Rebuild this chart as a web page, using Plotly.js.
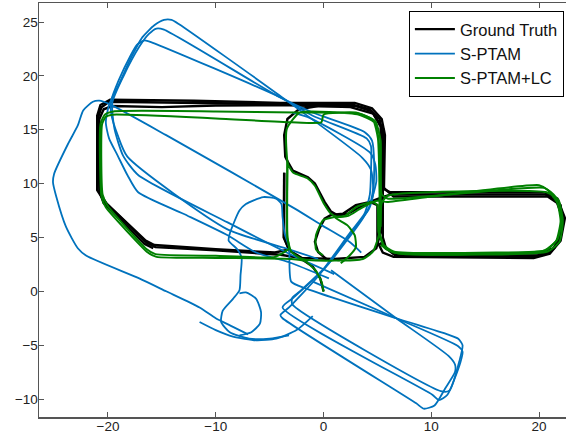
<!DOCTYPE html>
<html><head><meta charset="utf-8">
<script src="https://cdn.plot.ly/plotly-3.0.1.min.js"></script>
<style>html,body{margin:0;padding:0;background:#fff}</style>
</head><body>
<div id="chart" style="width:566px;height:442px"></div>
<script>
// ---------------- Ground truth (black) ----------------
const gtLap1 = [[0,0],[-0.3,1.2],[-1.0,2.3],[-2.2,3.1],[-4.0,3.4],[-10.0,3.8],[-15.6,4.1],[-16.4,4.5],[-20.1,8.1],[-20.8,9.2],[-20.9,16.2],[-20.6,17.1],[-19.9,17.6],[-12.0,17.5],[-4.0,17.4],[2.8,17.3],[4.3,16.9],[5.2,16.0],[5.5,14.5],[5.5,5.0],[5.8,4.0],[6.6,3.4],[10.0,3.3],[19.8,3.3],[21.1,3.7],[21.9,4.8],[22.2,6.8],[21.6,8.4],[20.6,9.0],[10.0,9.0],[6.3,9.0],[5.6,8.8],[5.05,8.6],[4.3,8.3],[3.35,7.8],[2.25,7.2],[1.3,7.05],[0.7,7.4],[0.1,8.3],[-0.8,10.0],[-1.45,10.6],[-2.85,11.2],[-3.3,12.0],[-3.55,12.5],[-3.65,14.5],[-3.35,16.0],[-2.3,16.9],[-0.5,17.2],[3.0,17.2],[4.5,16.7],[5.3,15.3],[5.4,10.0],[5.3,5.5],[4.9,4.0],[3.8,3.2],[1.0,3.0],[-2.0,3.1],[-3.2,3.8],[-3.65,5.0],[-3.65,11.0]];
const gtLap2 = [[-3.65,11.0],[-3.7,5.0],[-3.2,3.9],[-4.5,3.6],[-10.0,3.9],[-15.7,4.3],[-16.5,4.7],[-20.3,8.3],[-21.0,9.4],[-21.0,16.3],[-20.7,17.3],[-19.8,17.8],[-12.0,17.7],[-4.0,17.5],[2.9,17.5],[4.5,17.0],[5.4,16.0],[5.7,14.5],[5.6,9.5],[6.2,9.2],[10.0,9.2],[20.5,9.2],[21.7,8.6],[22.4,6.8],[22.0,4.7],[21.0,3.5],[19.5,3.1],[10.0,3.2],[6.5,3.2],[5.5,3.6],[5.0,4.6],[5.0,8.0],[4.3,8.3],[3.0,8.0],[1.8,7.2],[0.7,7.1],[0.1,6.75],[-0.4,5.8],[-0.8,4.6],[-0.5,3.65],[0.25,3.0],[1.5,2.9]];
const gtLap3 = [[-15.8,4.0],[-16.6,4.4],[-20.4,8.2],[-20.7,9.0],[-20.8,16.0],[-20.4,16.9],[-19.6,17.2],[-15.0,17.1],[-10.0,17.25],[-4.0,17.3],[2.5,17.1],[4.6,16.5],[5.6,15.0],[5.6,9.6],[6.5,8.8],[20.8,8.8],[22.0,8.0],[22.2,6.0],[21.4,4.0],[19.8,3.5],[6.5,3.5],[5.2,4.5]];

// ---------------- S-PTAM (blue) ----------------
const spFarLeft = [[-7.0,-4.0],[-8.4,-3.3],[-10.0,-2.5],[-11.5,-1.5],[-14.6,0.0],[-17.1,1.2],[-22.0,3.3],[-22.8,4.0],[-23.9,6.0],[-24.8,8.8],[-25.1,10.1],[-25.0,10.9],[-23.7,13.7],[-22.8,15.4],[-22.3,16.8],[-21.4,17.6],[-20.8,17.7],[-19.9,17.4],[-14.6,14.5],[-2.7,7.7],[-0.1,6.1],[2.4,4.6],[3.5,3.6]];
const spLapA = [[0.5,1.2],[-3.2,2.7],[-6.25,3.6],[-8.9,5.2],[-13.0,7.2],[-17.2,9.2],[-18.2,10.8],[-19.1,12.6],[-19.9,14.2],[-20.2,15.7],[-19.9,17.3],[-18.9,19.4],[-18.0,21.4],[-16.8,23.6],[-15.7,24.7],[-14.8,25.2],[-14.1,25.2],[-13.4,24.8],[-4.1,18.2],[3.6,12.4],[4.4,11.3],[4.6,9.6],[4.3,8.0],[3.6,6.7],[0.5,2.6],[-2.2,0.0],[-2.9,-0.6],[-2.9,-1.2],[11.0,-9.3],[11.7,-9.2],[12.6,-6.5],[12.9,-5.0],[12.5,-4.4],[11.5,-4.0],[6.75,-2.5],[-1.6,0.25],[-3.0,0.9],[-3.2,4.1],[-3.6,5.35],[-3.8,6.9],[-3.9,8.1],[-4.4,8.6],[-5.6,8.75],[-7.2,8.1],[-7.8,7.5],[-8.7,5.35],[-8.8,4.7],[-8.0,3.9],[-7.6,3.1],[-7.7,1.5],[-7.8,0.1],[-8.4,-0.7],[-9.35,-1.8],[-9.5,-2.85],[-8.7,-3.8],[-6.9,-4.4],[-5.0,-4.4],[-3.2,-4.1]];
const spLapB = [[1.0,1.6],[-3.0,3.4],[-8.9,6.4],[-17.2,10.8],[-18.6,12.6],[-19.4,15.1],[-19.6,17.5],[-18.6,19.9],[-17.1,22.7],[-16.2,23.9],[-15.5,24.4],[-14.8,24.3],[-4.2,18.1],[-1.0,16.6],[3.8,14.8],[4.5,14.0],[4.7,12.0],[4.6,9.0],[4.2,7.6],[3.0,6.0],[0.0,2.0],[-2.8,-0.6],[-3.8,-1.5],[10.1,-9.6],[10.7,-10.1],[11.5,-9.6],[12.7,-6.6],[12.9,-5.6],[12.5,-5.1],[6.75,-2.5],[-1.0,0.9]];
const spLapC = [[-0.5,3.0],[-3.2,3.9],[-9.0,5.8],[-18.2,12.5],[-19.1,14.5],[-19.7,16.5],[-19.7,17.7],[-19.0,19.6],[-17.9,21.9],[-17.3,22.9],[-16.6,23.3],[-15.9,23.1],[-4.0,18.0],[-1.0,16.3],[4.0,14.2],[4.4,13.5],[4.4,11.0],[4.3,9.0],[3.8,7.2],[2.5,5.5],[-0.5,1.4],[-3.2,-1.5],[-4.0,-2.2],[-3.8,-2.5],[8.6,-10.4],[9.3,-10.9],[10.3,-10.6],[11.3,-9.0],[12.2,-7.5],[12.2,-6.8],[11.6,-6.0],[6.75,-2.5],[0.7,1.95]];
const spInner = [[-2.9,16.6],[-1.5,16.2],[4.3,12.9],[4.8,11.8],[4.9,10.2],[4.5,8.6]];
const spTear = [[-7.8,-0.2],[-7.2,-0.1],[-6.25,-0.7],[-5.8,-1.9],[-5.9,-3.0],[-6.7,-3.8],[-7.8,-4.1]];
const spEnd = [[-11.5,-2.85],[-10.0,-3.6],[-8.4,-4.2],[-6.25,-4.55],[-4.4,-4.4],[-2.5,-3.6],[-1.0,-2.3]];

// ---------------- S-PTAM+LC (green) ----------------
const lcLap1 = [[0.0,-0.05],[-0.15,0.8],[-0.7,1.9],[-1.7,2.8],[-3.0,3.0],[-10.0,3.1],[-15.5,3.2],[-16.3,3.6],[-20.2,7.8],[-20.6,8.8],[-20.7,15.5],[-20.3,16.4],[-19.5,16.7],[-10.0,16.7],[-2.5,16.6],[3.3,16.5],[4.6,15.9],[5.05,14.2],[5.2,9.0],[5.2,5.5],[5.6,4.3],[6.5,3.7],[16.0,3.6],[20.6,3.8],[21.6,4.7],[22.0,6.5],[21.7,8.2],[20.8,9.4],[20.0,9.85],[10.0,8.8],[5.9,8.3],[5.0,8.4],[4.2,8.1],[3.3,7.6],[2.3,7.0],[1.3,6.9],[0.7,7.2],[0.0,8.2],[-0.8,9.8],[-1.5,10.5],[-2.8,11.0],[-3.3,11.8],[-3.4,12.5],[-3.4,15.1],[-2.2,16.6],[3.3,16.4],[4.7,15.7],[5.1,14.2],[5.3,9.5],[5.2,5.5],[4.6,3.7],[3.65,3.0],[1.0,2.85],[-2.0,3.0],[-3.0,3.7],[-3.35,5.0],[-3.35,12.0]];
const lcLap2 = [[-3.35,12.0],[-3.35,5.0],[-3.2,4.0],[-4.5,3.2],[-10.0,3.3],[-15.6,3.45],[-16.4,3.9],[-20.0,7.9],[-20.5,9.0],[-20.55,15.5],[-20.2,16.2],[-19.6,16.4],[-10.0,16.05],[-3.0,15.7],[-0.2,15.7],[0.0,16.4],[3.0,16.6],[4.8,15.8],[5.3,14.0],[5.4,9.0],[6.0,8.6],[20.5,9.6],[21.5,8.8],[22.1,6.6],[21.7,4.8],[20.5,3.8],[7.0,3.5],[5.7,4.0],[5.1,5.5],[5.0,8.0],[4.5,8.3],[3.0,7.8],[2.0,7.0],[1.0,6.9],[2.25,6.1],[2.9,5.2],[3.0,4.1],[2.4,3.3],[1.6,2.6]];
const lcLap3 = [[5.3,6.0],[5.4,8.2],[6.0,8.9],[20.7,9.2],[21.8,8.5],[22.2,6.5],[21.9,4.6],[20.8,3.7],[6.5,3.6],[5.3,4.3]];
const lcLoop = [[1.0,6.9],[-0.05,6.6],[-0.7,5.2],[-0.7,3.9],[-0.05,3.35]];

function join(segs){
  const x=[],y=[];
  segs.forEach((s,i)=>{ if(i>0){x.push(null);y.push(null);} s.forEach(p=>{x.push(p[0]);y.push(p[1]);}); });
  return {x,y};
}
const gt = join([gtLap1, gtLap2, gtLap3]);
const sp = join([spFarLeft, spLapA, spLapB, spLapC, spInner, spTear, spEnd]);
const lc = join([lcLap1, lcLap2, lcLap3, lcLoop]);

const FONT = 'Liberation Sans, Arial, sans-serif';
const traces = [
  {type:'scatter',mode:'lines',name:'Ground Truth',x:gt.x,y:gt.y,line:{color:'#000000',width:2.4},legendgroup:'a',connectgaps:false},
  {type:'scatter',mode:'lines',name:'S-PTAM',x:sp.x,y:sp.y,line:{color:'#0072BD',width:1.8,shape:'spline',smoothing:0.6},legendgroup:'b',connectgaps:false},
  {type:'scatter',mode:'lines',name:'S-PTAM+LC',x:lc.x,y:lc.y,line:{color:'#008000',width:2,shape:'spline',smoothing:0.5},legendgroup:'c',connectgaps:false}
];
const axisBase = {showgrid:false,zeroline:false,showline:true,linecolor:'#555',linewidth:1.5,ticks:'inside',ticklen:5,tickcolor:'#555',tickwidth:1,tickfont:{family:FONT,size:13.5,color:'#222'}};
const layout = {
  width:566,height:442,margin:{l:39,r:0,t:3,b:25},
  paper_bgcolor:'#fff',plot_bgcolor:'#fff',
  xaxis:Object.assign({},axisBase,{range:[-26.4,22.5],tickvals:[-20,-10,0,10,20],mirror:'ticks',ticklabelstandoff:-4}),
  yaxis:Object.assign({},axisBase,{range:[-11.67,26.77],tickvals:[-10,-5,0,5,10,15,20,25],ticklabelstandoff:-3}),
  showlegend:true,
  legend:{x:0.996,y:0.981,xanchor:'right',yanchor:'top',bgcolor:'#fff',bordercolor:'#000',borderwidth:1,itemwidth:40,font:{family:FONT,size:16.5,color:'#111'},traceorder:'grouped',tracegroupgap:0}
};
Plotly.newPlot('chart',traces,layout,{displayModeBar:false,staticPlot:true});
</script>
</body></html>
